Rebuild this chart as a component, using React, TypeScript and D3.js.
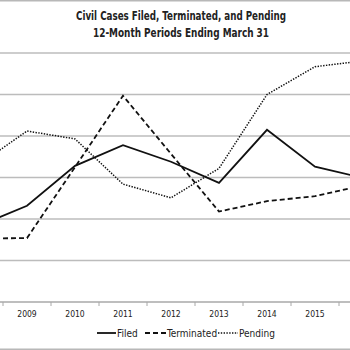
import React from "react";
import * as d3 from "d3";

const years = ["2008", "2009", "2010", "2011", "2012", "2013", "2014", "2015", "2016"];
const filed = [1.84, 2.32, 3.28, 3.78, 3.38, 2.87, 4.15, 3.26, 2.99];
const terminated = [1.53, 1.54, 3.25, 4.97, 3.57, 2.18, 2.43, 2.55, 2.81];
const pending = [3.31, 4.12, 3.93, 2.84, 2.51, 3.22, 5.0, 5.67, 5.81];
const gridValues = [1, 2, 3, 4, 5, 6];
const titleLines = ["Civil Cases Filed, Terminated, and Pending", "12-Month Periods Ending March 31"];

const W = 350, H = 350;
const FONT = "'Liberation Sans Narrow', 'DejaVu Sans Condensed', Arial, sans-serif";

export default function App() {
  const x = d3.scaleBand<string>().domain(years).range([-45, 387]);
  const y = d3.scaleLinear().domain([0, 6]).range([302, 53]);
  const cx = (yr: string) => (x(yr) as number) + x.bandwidth() / 2;
  const line = d3.line<number>().x((_, i) => cx(years[i])).y((v) => y(v));
  const series = [
    { name: "Filed", vals: filed, dash: "none", w: 1.8 },
    { name: "Terminated", vals: terminated, dash: "5,3", w: 1.8 },
    { name: "Pending", vals: pending, dash: "1.4,1.4", w: 1.5 },
  ];
  const legend = [
    { x1: 97, x2: 116, tx: 117 },
    { x1: 145, x2: 166, tx: 167 },
    { x1: 218, x2: 238, tx: 239 },
  ];
  const boundaries = [...years.map((yr) => x(yr) as number), 387];
  const visibleYears = years.filter((yr) => cx(yr) - 12 >= 0 && cx(yr) + 12 <= W);
  return (
    <svg width={W} height={H} style={{ position: "absolute", left: 0, top: 0, background: "#fff" }}>
      <rect x={0} y={0} width={W} height={H} fill="#fff" />
      <line x1={0} x2={W} y1={0.8} y2={0.8} stroke="#b8b8b8" strokeWidth={1.5} />
      <line x1={0} x2={W} y1={349.2} y2={349.2} stroke="#b8b8b8" strokeWidth={1.5} />
      {titleLines.map((t, i) => (
        <text key={t} x={181} y={20 + i * 17} textAnchor="middle" fontFamily={FONT} fontWeight="bold" fontSize={12.5}
          fill="#222" textLength={i === 0 ? 210 : 176} lengthAdjust="spacingAndGlyphs">{t}</text>
      ))}
      {gridValues.map((g) => (
        <line key={g} x1={0} x2={W} y1={y(g)} y2={y(g)} stroke="#bcbcbc" strokeWidth={1.6} />
      ))}
      <line x1={0} x2={W} y1={y(0)} y2={y(0)} stroke="#a8a8a8" strokeWidth={1.4} />
      {boundaries.map((b, i) => (
        <line key={i} x1={b} x2={b} y1={y(0)} y2={y(0) + 4} stroke="#a8a8a8" strokeWidth={1} />
      ))}
      {visibleYears.map((yr) => (
        <text key={yr} x={cx(yr)} y={317} textAnchor="middle" fontFamily={FONT} fontSize={8.5} fill="#222">{yr}</text>
      ))}
      {series.map((s) => (
        <path key={s.name} d={line(s.vals) || ""} fill="none" stroke="#111" strokeWidth={s.w}
          strokeDasharray={s.dash} strokeLinejoin="miter" />
      ))}
      {series.map((s, i) => (
        <g key={s.name}>
          <line x1={legend[i].x1} x2={legend[i].x2} y1={333} y2={333} stroke="#111" strokeWidth={s.w}
            strokeDasharray={s.dash} />
          <text x={legend[i].tx} y={336.5} fontFamily={FONT} fontSize={10} fill="#222">{s.name}</text>
        </g>
      ))}
    </svg>
  );
}
